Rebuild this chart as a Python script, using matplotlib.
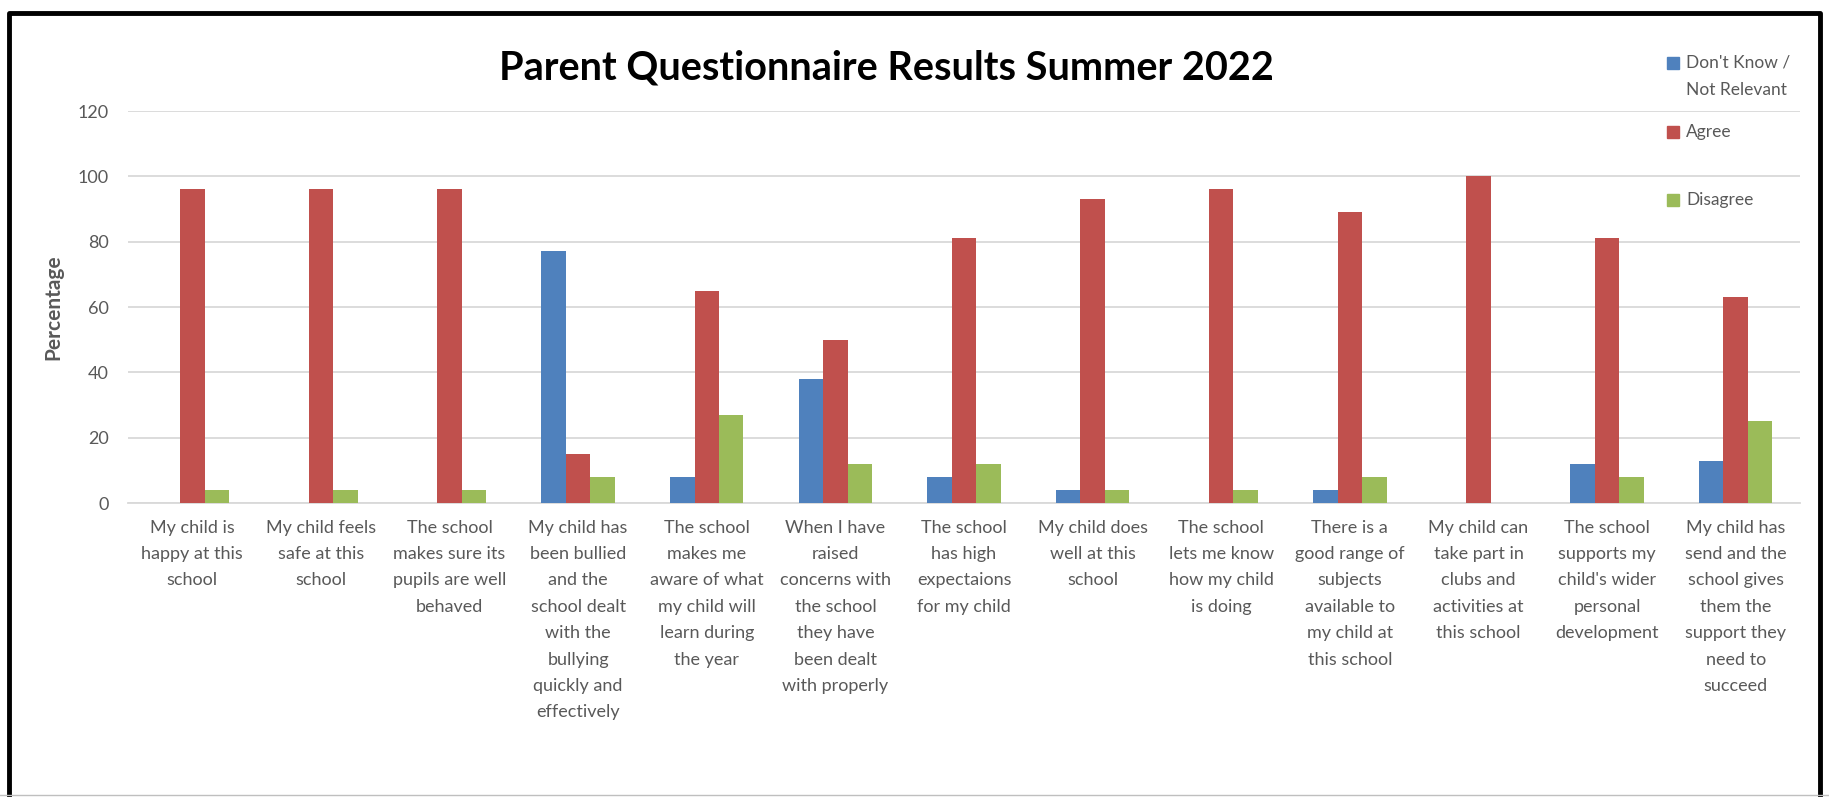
"""Parent questionnaire results, Summer 2022, as a clustered bar chart."""

import matplotlib
matplotlib.use("Agg")
import matplotlib.pyplot as plt
import numpy as np
from matplotlib.lines import Line2D
from matplotlib.patches import Rectangle

W, H = 1829, 797

QUESTIONS = [
    "My child is\nhappy at this\nschool",
    "My child feels\nsafe at this\nschool",
    "The school\nmakes sure its\npupils are well\nbehaved",
    "My child has\nbeen bullied\nand the\nschool dealt\nwith the\nbullying\nquickly and\neffectively",
    "The school\nmakes me\naware of what\nmy child will\nlearn during\nthe year",
    "When I have\nraised\nconcerns with\nthe school\nthey have\nbeen dealt\nwith properly",
    "The school\nhas high\nexpectaions\nfor my child",
    "My child does\nwell at this\nschool",
    "The school\nlets me know\nhow my child\nis doing",
    "There is a\ngood range of\nsubjects\navailable to\nmy child at\nthis school",
    "My child can\ntake part in\nclubs and\nactivities at\nthis school",
    "The school\nsupports my\nchild's wider\npersonal\ndevelopment",
    "My child has\nsend and the\nschool gives\nthem the\nsupport they\nneed to\nsucceed",
]
DONT_KNOW = [0, 0, 0, 77, 8, 38, 8, 4, 0, 4, 0, 12, 13]
AGREE = [96, 96, 96, 15, 65, 50, 81, 93, 96, 89, 100, 81, 63]
DISAGREE = [4, 4, 4, 8, 27, 12, 12, 4, 4, 8, 0, 8, 25]
SERIES = [("Don't Know /\nNot Relevant", DONT_KNOW, "#4F81BD"),
          ("Agree", AGREE, "#C0504D"),
          ("Disagree", DISAGREE, "#9BBB59")]
Y_TICKS = [0, 20, 40, 60, 80, 100, 120]

GREY = "#595959"
FONT = "Lato"


def fx(x):
    return x / W


def fy(y):
    return 1 - y / H


def main():
    plt.rcParams["font.family"] = [FONT, "DejaVu Sans"]
    fig = plt.figure(figsize=(W / 100, H / 100), dpi=100)
    ax = fig.add_axes([fx(128), fy(503), fx(1800) - fx(128), fy(111) - fy(503)])

    x = np.arange(len(QUESTIONS))
    width = 0.19
    for k, (label, vals, colour) in enumerate(SERIES):
        ax.bar(x + (k - 1) * width, vals, width, color=colour, label=label, zorder=3)

    ax.set_xlim(-0.5, len(QUESTIONS) - 0.5)
    ax.set_ylim(0, 120)
    ax.set_yticks(Y_TICKS)
    ax.set_yticklabels([str(t) for t in Y_TICKS], fontsize=13, color=GREY)
    ax.set_xticks(x)
    ax.set_xticklabels(QUESTIONS, fontsize=13, color=GREY, linespacing=1.8,
                       va="top", ha="center")
    ax.tick_params(axis="both", length=0)
    ax.tick_params(axis="x", pad=12)
    ax.tick_params(axis="y", pad=14)
    ax.grid(axis="y", color="#D9D9D9", lw=1.3, zorder=0)
    for side in ("top", "right", "left"):
        ax.spines[side].set_visible(False)
    ax.spines["bottom"].set_color("#D9D9D9")
    ax.spines["bottom"].set_linewidth(1.3)
    ax.set_ylabel("Percentage", fontsize=15, fontweight="bold", color=GREY, labelpad=10)

    fig.text(fx(886), fy(68), "Parent Questionnaire Results Summer 2022",
             fontsize=28.5, fontweight="bold", color="black", ha="center", va="center")

    # legend, laid out the way the spreadsheet placed it
    rows = [(63, 90), (132, None), (200, None)]
    for (label, _, colour), (y0, y1) in zip(SERIES, rows):
        fig.add_artist(Rectangle((fx(1667), fy(y0 + 6)), 12 / W, 12 / H,
                                 transform=fig.transFigure, color=colour))
        lines = label.split("\n")
        fig.text(fx(1686), fy(y0), lines[0], fontsize=12.5, color=GREY, va="center")
        if y1 is not None:
            fig.text(fx(1686), fy(y1), lines[1], fontsize=12.5, color=GREY, va="center")

    # chart frame, black on three sides
    fig.add_artist(Line2D([fx(9), fx(9), fx(1820), fx(1820)],
                          [0, fy(13), fy(13), 0], transform=fig.transFigure,
                          color="black", lw=3.5))
    fig.add_artist(Line2D([0, 1], [fy(795), fy(795)], transform=fig.transFigure,
                          color="#BFBFBF", lw=1))

    fig.savefig("out.png", dpi=100)
    plt.close(fig)


if __name__ == "__main__":
    main()
